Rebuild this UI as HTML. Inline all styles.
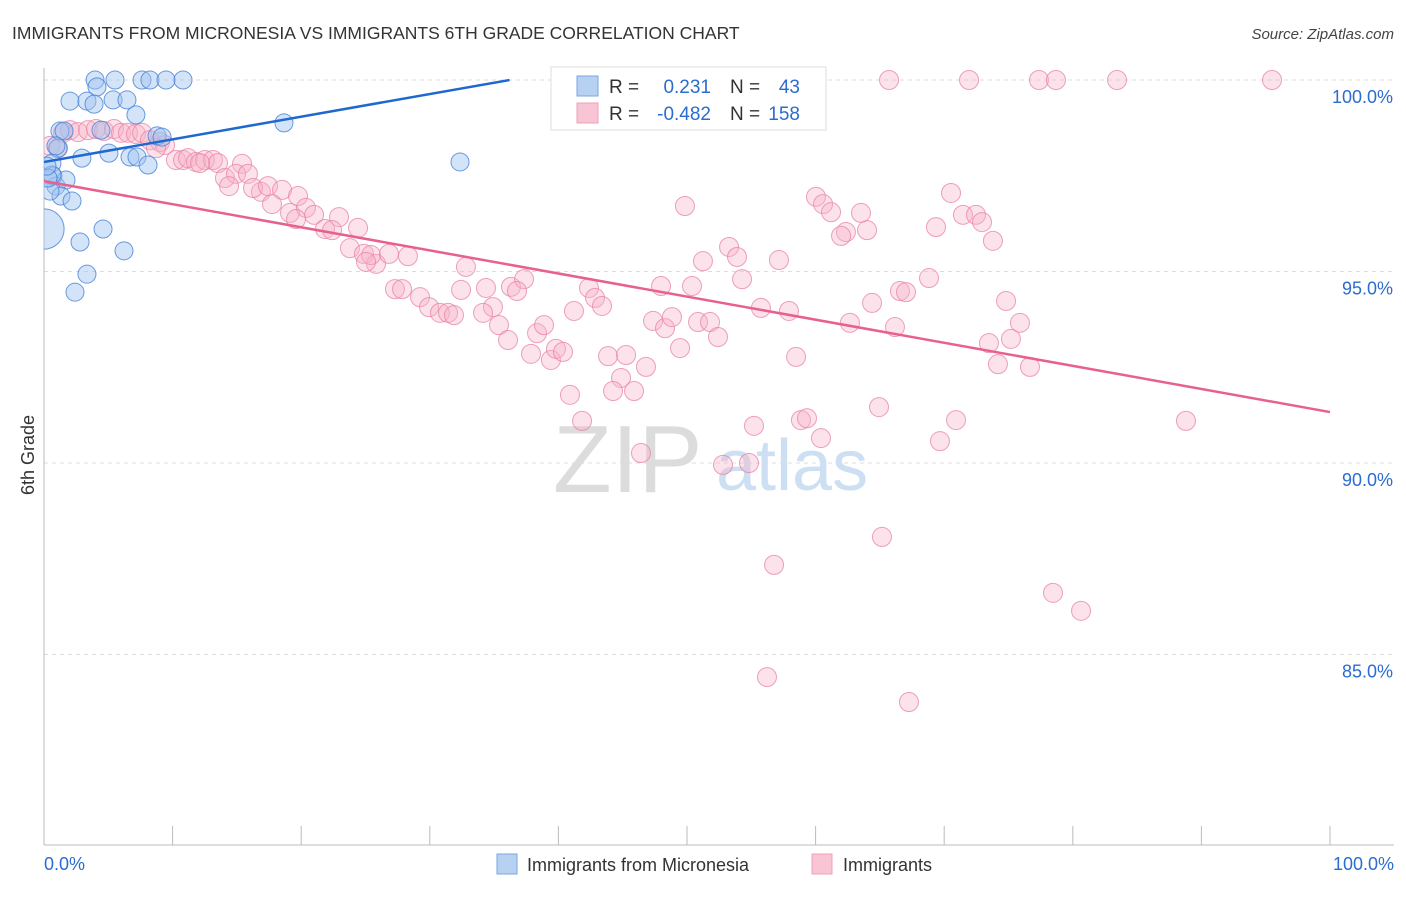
<!DOCTYPE html>
<html><head><meta charset="utf-8"><style>
body{margin:0;background:#fff;font-family:"Liberation Sans",sans-serif;}
svg text{font-family:"Liberation Sans",sans-serif;}
</style></head><body>
<svg id="chart" width="1406" height="892" xmlns="http://www.w3.org/2000/svg">
<defs><clipPath id="plotclip"><rect x="44" y="60" width="1300" height="785"/></clipPath></defs>
<text x="12" y="39" font-size="17.5" fill="#333">IMMIGRANTS FROM MICRONESIA VS IMMIGRANTS 6TH GRADE CORRELATION CHART</text>
<text x="1394" y="39" font-size="15" fill="#444" font-style="italic" text-anchor="end">Source: ZipAtlas.com</text>
<g id="grid"></g>
<g>
<text x="553" y="492" font-size="96" fill="#dcdcdc" font-family="Liberation Serif, serif">ZIP</text>
<text x="716" y="490" font-size="72" fill="#cddff3">atlas</text>
</g>
<g id="axes"></g>
<g id="marks" clip-path="url(#plotclip)"></g>
<text transform="translate(34,455) rotate(-90)" font-size="18" fill="#333" text-anchor="middle">6th Grade</text>
<g>
<rect x="551" y="67" width="275" height="63" fill="#fff" stroke="#ddd"/>
<rect x="577" y="76" width="21" height="20" fill="#b7d1f3" stroke="#7aa6e0"/>
<rect x="577" y="103" width="21" height="20" fill="#f9c4d3" stroke="#eea0b8"/>
<text x="609" y="93" font-size="19" fill="#333">R =</text>
<text x="711" y="93" font-size="19" fill="#2b6cd0" text-anchor="end">0.231</text>
<text x="730" y="93" font-size="19" fill="#333">N =</text>
<text x="800" y="93" font-size="19" fill="#2b6cd0" text-anchor="end">43</text>
<text x="609" y="120" font-size="19" fill="#333">R =</text>
<text x="711" y="120" font-size="19" fill="#2b6cd0" text-anchor="end">-0.482</text>
<text x="730" y="120" font-size="19" fill="#333">N =</text>
<text x="800" y="120" font-size="19" fill="#2b6cd0" text-anchor="end">158</text>
</g>
<g>
<rect x="497" y="854" width="20" height="20" fill="#b7d1f3" stroke="#7aa6e0"/>
<text x="527" y="871" font-size="18" fill="#333">Immigrants from Micronesia</text>
<rect x="812" y="854" width="20" height="20" fill="#f9c4d3" stroke="#eea0b8"/>
<text x="843" y="871" font-size="18" fill="#333">Immigrants</text>
</g>
</svg>
<script>
const yTicks=[100,95,90,85];
const yTickLabels=["100.0%","95.0%","90.0%","85.0%"];
const xTickValues=[0,10,20,30,40,50,60,70,80,90,100];
const xEndLabels=["0.0%","100.0%"];
const blueX=[3.97,5.52,7.62,8.24,9.49,10.81,4.12,2.02,3.34,3.89,5.37,6.45,7.15,1.24,1.56,4.43,8.79,9.18,18.66,1.09,2.95,5.05,6.69,7.23,8.09,32.35,0.62,0.70,0.93,1.71,1.32,2.18,0.47,0,2.80,4.59,6.22,3.34,2.41,0.93,0.62,0.31,0.23];
const blueY=[100,100,100,100,100,100,99.82,99.45,99.45,99.37,99.48,99.48,99.09,98.67,98.67,98.69,98.54,98.51,98.88,98.22,97.96,98.09,97.99,97.99,97.78,97.86,97.83,97.49,97.23,97.39,96.97,96.84,97.10,96.11,95.77,96.11,95.54,94.93,94.46,98.28,97.52,97.44,97.75];
const blueWeight=[1,1,1,1,1,1,1,1,1,1,1,1,1,1,1,1,1,1,1,1,1,1,1,1,1,1,1,1,1,1,1,1,1,5,1,1,1,1,1,1,1,1,1];
const pinkX=[65.71,71.93,77.37,78.69,83.44,95.49,0.47,1.09,1.48,2.02,2.64,3.42,4.04,4.67,5.44,5.99,6.53,7.15,7.62,8.24,9.02,9.41,8.71,10.26,10.81,11.20,11.82,12.52,13.14,13.53,12.13,15.40,14.07,14.93,15.86,14.39,16.87,16.25,17.42,18.51,17.73,19.13,19.75,20.37,21.00,19.60,21.85,22.94,22.40,24.42,23.79,24.88,25.82,25.43,26.83,28.30,25.04,27.29,27.84,29.24,29.94,30.79,31.42,32.43,32.81,31.88,34.37,36.31,37.33,36.78,42.38,42.85,43.39,41.21,47.98,50.39,55.75,57.93,64.39,62.67,66.17,66.56,34.91,34.14,35.38,36.08,38.34,38.88,37.87,39.42,39.81,40.36,47.36,48.29,48.83,50.86,51.79,52.41,49.46,43.86,45.26,46.81,44.87,44.25,45.88,58.48,40.90,41.84,46.42,52.80,54.82,55.21,58.86,59.33,60.42,64.93,49.84,60.03,60.58,61.20,63.53,64.00,62.36,61.98,53.27,53.89,51.24,57.15,54.28,70.53,71.46,72.47,72.94,69.36,73.79,68.82,67.03,74.81,75.89,75.19,73.48,74.18,76.67,70.92,69.67,88.80,65.16,56.77,78.46,80.64,56.22,67.26];
const pinkY=[100,100,100,100,100,100,98.28,98.22,98.62,98.69,98.64,98.69,98.72,98.67,98.72,98.62,98.62,98.59,98.62,98.43,98.38,98.30,98.22,97.91,97.91,97.96,97.86,97.91,97.91,97.83,97.83,97.81,97.44,97.55,97.55,97.23,97.08,97.18,97.23,97.13,96.76,96.53,96.97,96.66,96.48,96.37,96.11,96.42,96.08,96.14,95.61,95.46,95.20,95.43,95.46,95.40,95.25,94.54,94.54,94.33,94.07,93.92,93.92,94.52,95.12,93.86,94.57,94.60,94.80,94.49,94.57,94.31,94.10,93.97,94.62,94.62,94.05,93.97,94.18,93.66,93.55,94.49,94.07,93.92,93.60,93.21,93.39,93.60,92.85,92.69,92.98,92.90,93.71,93.52,93.81,93.68,93.68,93.29,93.00,92.79,92.82,92.51,92.22,91.88,91.88,92.77,91.78,91.10,90.26,89.95,90.00,90.97,91.12,91.17,90.65,91.46,96.71,96.95,96.76,96.55,96.53,96.08,96.03,95.93,95.64,95.38,95.27,95.30,94.80,97.05,96.48,96.48,96.29,96.16,95.80,94.83,94.46,94.23,93.66,93.24,93.13,92.58,92.51,91.12,90.57,91.10,88.07,87.34,86.61,86.14,84.41,83.76];
const blueTrend=[0,97.86,36.2,100];
const pinkTrend=[0,97.36,100,91.33];

const NS="http://www.w3.org/2000/svg";
const X0=44,X1=1330,Y100=80,PXPER=38.3;
function sx(v){return X0+(X1-X0)*v/100;}
function sy(v){return Y100+(100-v)*PXPER;}
function mk(tag,attrs,parent){const e=document.createElementNS(NS,tag);for(const k in attrs)e.setAttribute(k,attrs[k]);parent.appendChild(e);return e;}
const grid=document.getElementById('grid'),axes=document.getElementById('axes'),marks=document.getElementById('marks');
yTicks.forEach((t,i)=>{
  const l=mk('line',{x1:X0,x2:1394,y1:sy(t),y2:sy(t),stroke:'#dcdcdc','stroke-dasharray':'4,4'},grid);
  
  
  const tx=mk('text',{x:1393,y:sy(t)+23,'font-size':18,fill:'#2b6cd0','text-anchor':'end'},axes);
  tx.textContent=yTickLabels[i];
  
  
});
const yl=mk('line',{x1:X0,x2:X0,y1:68,y2:845,stroke:'#bbb'},axes);


const xl=mk('line',{x1:X0,x2:1394,y1:845,y2:845,stroke:'#bbb'},axes);


xTickValues.forEach(v=>{
  const t=mk('line',{x1:sx(v),x2:sx(v),y1:826,y2:845,stroke:'#bbb'},axes);
  
  
});
const xa=mk('text',{x:44,y:870,'font-size':18,fill:'#2b6cd0'},axes);xa.textContent=xEndLabels[0];


const xb=mk('text',{x:1394,y:870,'font-size':18,fill:'#2b6cd0','text-anchor':'end'},axes);xb.textContent=xEndLabels[1];



pinkX.forEach((v,i)=>{
  const c=mk('circle',{cx:sx(v),cy:sy(pinkY[i]),r:9.5,fill:'rgba(248,180,200,0.38)',stroke:'rgba(232,130,165,0.75)','stroke-width':1},marks);
  
  
});
blueX.forEach((v,i)=>{
  const c=mk('circle',{cx:sx(v),cy:sy(blueY[i]),r:9*Math.sqrt(blueWeight[i]),fill:'rgba(160,196,240,0.45)',stroke:'rgba(70,130,215,0.8)','stroke-width':1},marks);
  
  
});
const bl=mk('line',{x1:sx(blueTrend[0]),y1:sy(blueTrend[1]),x2:sx(blueTrend[2]),y2:sy(blueTrend[3]),stroke:'#1f68d0','stroke-width':2.5},marks);


const pl=mk('line',{x1:sx(pinkTrend[0]),y1:sy(pinkTrend[1]),x2:sx(pinkTrend[2]),y2:sy(pinkTrend[3]),stroke:'#e8608e','stroke-width':2.5},marks);


</script>
</body></html>
